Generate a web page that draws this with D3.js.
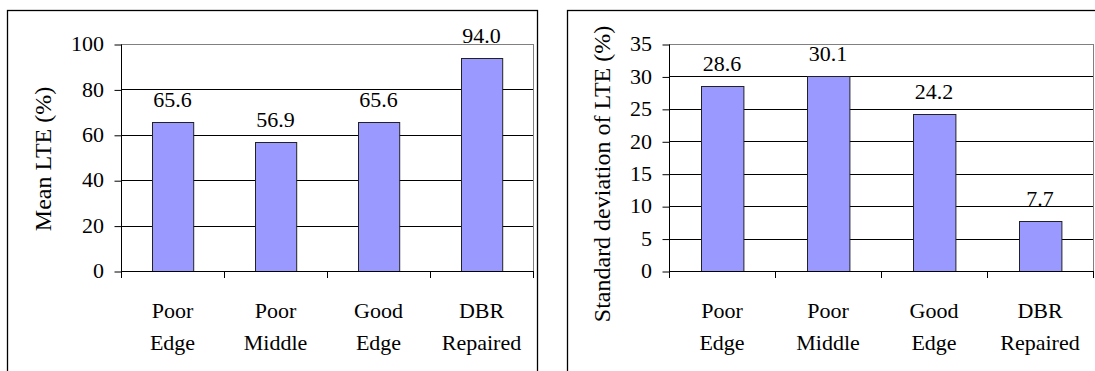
<!DOCTYPE html>
<html>
<head>
<meta charset="utf-8">
<script src="https://cdnjs.cloudflare.com/ajax/libs/d3/7.8.5/d3.min.js"></script>
<style>
  body { margin: 0; background: #fff; }
</style>
</head>
<body>
<div class="chart"></div>
<script>
// Two Excel-style bar charts side by side

var categories = [["Poor", "Edge"], ["Poor", "Middle"], ["Good", "Edge"], ["DBR", "Repaired"]];

var meanValues = [65.6, 56.9, 65.6, 94.0];
var meanTicks = [0, 20, 40, 60, 80, 100];

var sdValues = [28.6, 30.1, 24.2, 7.7];
var sdTicks = [0, 5, 10, 15, 20, 25, 30, 35];

var svgWidth = 1095;
var svgHeight = 371;

var svg = d3.select(".chart")
  .append("svg")
  .attr("width", svgWidth)
  .attr("height", svgHeight);

// every text in the chart goes through here so the font is always set
function addText(parent, size) {
  return parent.append("text")
    .attr("font-family", "Liberation Serif")
    .attr("font-size", size)
    .attr("fill", "#000");
}

// draws one panel: frame, grid, bars, labels, axes
function drawPanel(opts) {
  var g = svg.append("g");

  // outer frame (bottom runs off the picture)
  g.append("rect")
    .attr("x", opts.frame[0] + 0.5)
    .attr("y", opts.frame[1] + 0.5)
    .attr("width", opts.frame[2])
    .attr("height", 400)
    .attr("fill", "none")
    .attr("stroke", "#000")
    .attr("stroke-width", 1.3);

  var xScale = d3.scaleBand()
    .domain(d3.range(opts.values.length))
    .range([opts.left, opts.right])
    .paddingInner(0.6)
    .paddingOuter(0.3);

  var yScale = d3.scaleLinear()
    .domain([0, d3.max(opts.ticks)])
    .range([opts.bottom, opts.top]);

  // gridlines
  g.selectAll(".grid")
    .data(opts.ticks.slice(1))
    .enter()
    .append("line")
    .attr("x1", opts.left)
    .attr("x2", opts.right)
    .attr("y1", d => Math.round(yScale(d)) + 0.5)
    .attr("y2", d => Math.round(yScale(d)) + 0.5)
    .attr("stroke", (d, i) => i == opts.ticks.length - 2 ? "#808080" : "#000")
    .attr("stroke-width", 1);

  // plot area right edge
  g.append("line")
    .attr("x1", opts.right + 0.5)
    .attr("x2", opts.right + 0.5)
    .attr("y1", opts.top)
    .attr("y2", opts.bottom)
    .attr("stroke", "#808080");

  // bars
  g.selectAll(".bar")
    .data(opts.values)
    .enter()
    .append("rect")
    .attr("x", (d, i) => Math.round(xScale(i)) + 0.5)
    .attr("y", d => Math.round(yScale(d)) + 0.5)
    .attr("width", xScale.bandwidth())
    .attr("height", d => opts.bottom - Math.round(yScale(d)))
    .attr("fill", "#9999ff")
    .attr("stroke", "#222")
    .attr("stroke-width", 1);

  // value labels
  opts.values.forEach(function (v, i) {
    addText(g, 22)
      .attr("x", xScale(i) + xScale.bandwidth() / 2)
      .attr("y", yScale(v) - 15)
      .attr("text-anchor", "middle")
      .text(v.toFixed(1));
  });

  // y axis line and ticks from the d3 axis, labels drawn by hand
  var leftAxis = d3.axisLeft(yScale)
    .tickValues(opts.ticks)
    .tickSize(7)
    .tickFormat("");

  var yAxis = g.append("g")
    .attr("transform", `translate(${opts.left + 0.5}, 0.5)`)
    .call(leftAxis);
  yAxis.select(".domain").attr("d", `M0,${opts.top}V${opts.bottom}`).attr("stroke", "#000");
  yAxis.selectAll(".tick text").remove();

  opts.ticks.forEach(function (t) {
    addText(g, 22)
      .attr("x", opts.left - 17)
      .attr("y", yScale(t))
      .attr("dy", "0.33em")
      .attr("text-anchor", "end")
      .text(t);
  });

  // x axis: baseline with ticks at band edges
  g.append("line")
    .attr("x1", opts.left)
    .attr("x2", opts.right)
    .attr("y1", opts.bottom + 0.5)
    .attr("y2", opts.bottom + 0.5)
    .attr("stroke", "#000");

  var step = (opts.right - opts.left) / opts.values.length;
  g.selectAll(".xtick")
    .data(d3.range(opts.values.length + 1))
    .enter()
    .append("line")
    .attr("x1", d => Math.round(opts.left + d * step) + 0.5)
    .attr("x2", d => Math.round(opts.left + d * step) + 0.5)
    .attr("y1", opts.bottom)
    .attr("y2", opts.bottom + 7)
    .attr("stroke", "#000");

  // category labels, two lines each
  categories.forEach(function (c, i) {
    var cx = xScale(i) + xScale.bandwidth() / 2;
    addText(g, 22).attr("x", cx).attr("y", 318).attr("text-anchor", "middle").text(c[0]);
    addText(g, 22).attr("x", cx).attr("y", 350).attr("text-anchor", "middle").text(c[1]);
  });

  // y axis title
  addText(g, 24)
    .attr("transform", `translate(${opts.titleX}, ${opts.titleY}) rotate(-90)`)
    .attr("text-anchor", "middle")
    .attr("dy", "0.35em")
    .text(opts.title);
}

drawPanel({
  frame: [7, 10, 530],
  left: 121, right: 533, top: 44, bottom: 271,
  values: meanValues, ticks: meanTicks,
  title: "Mean LTE (%)", titleX: 43, titleY: 159
});

drawPanel({
  frame: [567, 10, 540],
  left: 669, right: 1093, top: 44, bottom: 271,
  values: sdValues, ticks: sdTicks,
  title: "Standard deviation of LTE (%)", titleX: 602, titleY: 174
});
</script>
</body>
</html>
